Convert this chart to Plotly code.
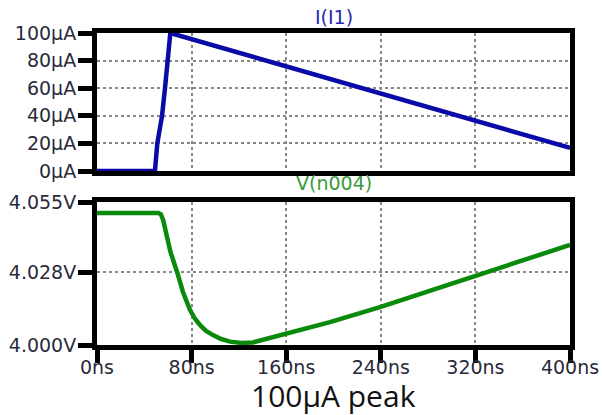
import plotly.graph_objects as go

# Current source I(I1): time in ns, current in µA
t_cur = [0, 49, 51, 55, 57.5, 59.5, 62, 400]
i_cur = [0, 0, 20, 40, 60, 80, 100, 16.7]

# Node voltage V(n004): time in ns, voltage in V
t_volt = [0, 52, 54, 56, 58.5, 62, 67.7, 72.7, 78.6, 83, 87.1, 92, 98.1,
          105, 112.5, 122, 131.9, 145, 160.7, 197, 239.3, 280, 320.5, 360, 400]
v_volt = [4.0508, 4.0508, 4.0503, 4.0480, 4.0430, 4.0360, 4.0281, 4.0204,
          4.0135, 4.0100, 4.0077, 4.0055, 4.0038, 4.0023, 4.0013, 4.0008,
          4.0010, 4.0025, 4.0046, 4.0088, 4.0146, 4.0207, 4.0269, 4.0327,
          4.0385]

time_ticks = [0, 80, 160, 240, 320, 400]
time_labels = ["0ns", "80ns", "160ns", "240ns", "320ns", "400ns"]
cur_ticks = [0, 20, 40, 60, 80, 100]
cur_labels = ["0µA", "20µA", "40µA", "60µA", "80µA", "100µA"]
volt_ticks = [4.000, 4.028, 4.055]
volt_labels = ["4.000V", "4.028V", "4.055V"]

BLUE = "#0a0aa8"
GREEN = "#0a8a0a"
TICK_FONT = dict(family="DejaVu Sans", size=19, color="#2a2a3a")

fig = go.Figure()
fig.add_trace(go.Scatter(x=t_cur, y=i_cur, mode="lines",
                         line=dict(color=BLUE, width=4.5),
                         xaxis="x", yaxis="y", showlegend=False))
fig.add_trace(go.Scatter(x=t_volt, y=v_volt, mode="lines",
                         line=dict(color=GREEN, width=4.5),
                         xaxis="x2", yaxis="y2", showlegend=False))

frame = dict(showline=True, linecolor="black", linewidth=5, mirror=True,
             showgrid=True, gridcolor="#888888", gridwidth=1.5, griddash="dot",
             zeroline=False, automargin=False)

fig.update_layout(
    width=602, height=415,
    margin=dict(l=97, r=32, t=33, b=70, autoexpand=False),
    plot_bgcolor="white", paper_bgcolor="white",
    xaxis=dict(domain=[0, 1], anchor="y", range=[0, 400], tickvals=time_ticks,
               showticklabels=False, ticks="", **frame),
    yaxis=dict(domain=[0.5577, 1], anchor="x", range=[0, 100],
               tickvals=cur_ticks, ticktext=cur_labels, ticks="outside",
               ticklen=14, tickwidth=5, tickcolor="black", tickfont=TICK_FONT,
               ticklabelstandoff=-2, **frame),
    xaxis2=dict(domain=[0, 1], anchor="y2", range=[0, 400], tickvals=time_ticks,
                ticktext=time_labels, ticks="outside", ticklen=13, tickwidth=5,
                tickcolor="black", tickfont=TICK_FONT, ticklabelstandoff=-12,
                **frame),
    yaxis2=dict(domain=[0, 0.4583], anchor="x2", range=[4.000, 4.055],
                tickvals=volt_ticks, ticktext=volt_labels, ticks="outside",
                ticklen=14, tickwidth=5, tickcolor="black", tickfont=TICK_FONT,
                ticklabelstandoff=-2, **frame),
    annotations=[
        dict(text="I(I1)", x=0.5, y=1, xref="paper", yref="paper", yshift=16,
             showarrow=False, font=dict(family="DejaVu Sans", size=19, color="#2828b0"),
             yanchor="middle"),
        dict(text="V(n004)", x=0.5, y=0.4583, xref="paper", yref="paper",
             yshift=19, showarrow=False,
             font=dict(family="DejaVu Sans", size=19, color="#3a9a3a"),
             yanchor="middle"),
        dict(text="100µA peak", x=0.5, y=0, xref="paper", yref="paper",
             yshift=-50, showarrow=False,
             font=dict(family="Open Sans", size=30, color="#111111"),
             yanchor="middle"),
    ],
)

fig.write_html("out.html")
